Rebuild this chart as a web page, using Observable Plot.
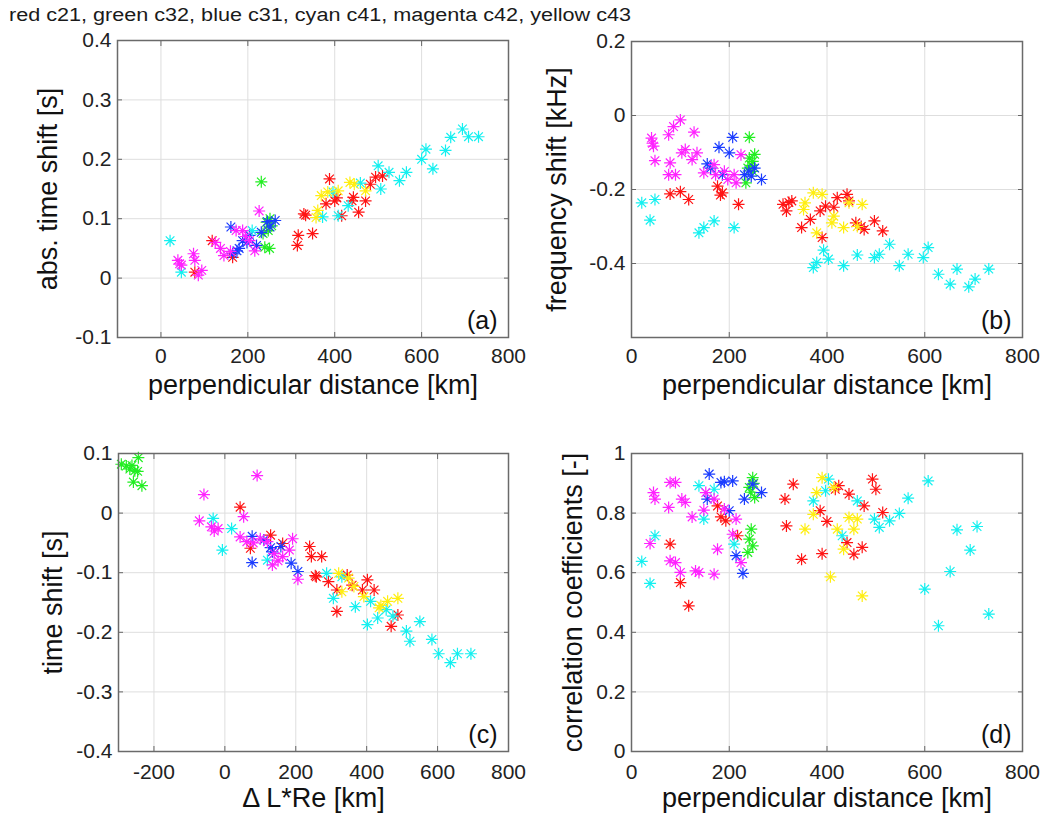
<!DOCTYPE html>
<html><head><meta charset="utf-8">
<script src="https://cdn.jsdelivr.net/npm/d3@7"></script>
<script src="https://cdn.jsdelivr.net/npm/@observablehq/plot@0.6"></script>
<style>
body{margin:0;background:#fff;font-family:"Liberation Sans",Arial,sans-serif;}
#root{position:relative;width:1047px;height:817px;overflow:hidden;background:#fff;}
.panel{position:absolute;}
#title{position:absolute;left:9px;top:5px;font-size:18px;line-height:20px;white-space:nowrap;transform:scaleX(1.2);transform-origin:left top;color:#1a1a1a;}
</style></head><body>
<div id="root"><div id="title">red c21, green c32, blue c31, cyan c41, magenta c42, yellow c43</div></div>
<script>
const seriesNames = ["c21", "c32", "c31", "c41", "c42", "c43"];
const seriesColors = ["#ff1414", "#22ee22", "#1a3cff", "#14f0f0", "#ff22ff", "#ffee10"];

// Panel (a): perpendicular distance [km] vs abs. time shift [s]
const aC21 = [[78,0.01],[118,0.063],[165,0.035],[314,0.055],[316,0.072],[329,0.108],[333,0.106],[349,0.075],[388,0.167],[380,0.125],[400,0.13],[416,0.105],[443,0.136],[440,0.13],[455,0.111],[471,0.13],[482,0.158],[494,0.17],[510,0.172],[405,0.135]];
const aC32 = [[231,0.162],[243,0.094],[251,0.1],[235,0.075],[239,0.052],[250,0.05],[247,0.08],[255,0.088]];
const aC31 = [[161,0.086],[165,0.041],[175,0.046],[188,0.063],[204,0.072],[231,0.077],[251,0.086],[263,0.097],[180,0.05],[220,0.055],[198,0.06],[245,0.095]];
const aC41 = [[21,0.063],[47,0.01],[210,0.08],[372,0.103],[396,0.145],[408,0.105],[431,0.122],[459,0.16],[506,0.15],[525,0.178],[549,0.164],[565,0.178],[600,0.2],[610,0.217],[626,0.184],[655,0.215],[667,0.237],[694,0.251],[708,0.238],[731,0.238],[500,0.189]];
const aC42 = [[39,0.03],[43,0.024],[47,0.022],[75,0.041],[78,0.03],[94,0.013],[86,0.005],[125,0.06],[137,0.05],[145,0.038],[173,0.08],[188,0.08],[204,0.063],[216,0.046],[226,0.113],[195,0.07],[160,0.045]];
const aC43 = [[357,0.102],[361,0.114],[369,0.139],[384,0.145],[408,0.147],[435,0.161],[471,0.147],[445,0.158]];

// Panel (b): perpendicular distance [km] vs frequency shift [kHz]
const bC21 = [[79,-0.212],[100,-0.206],[117,-0.227],[176,-0.191],[186,-0.209],[182,-0.215],[219,-0.24],[310,-0.24],[317,-0.258],[328,-0.231],[322,-0.235],[348,-0.303],[366,-0.281],[386,-0.258],[397,-0.245],[414,-0.248],[421,-0.222],[441,-0.213],[445,-0.231],[390,-0.33],[459,-0.29],[476,-0.308],[497,-0.285],[514,-0.312],[470,-0.3]];
const bC32 = [[241,-0.059],[241,-0.115],[248,-0.124],[238,-0.142],[248,-0.151],[234,-0.182],[245,-0.135],[252,-0.105]];
const bC31 = [[207,-0.059],[179,-0.086],[200,-0.101],[155,-0.131],[162,-0.142],[186,-0.16],[231,-0.16],[252,-0.142],[266,-0.173],[245,-0.164],[240,-0.15]];
const bC41 = [[21,-0.236],[48,-0.227],[38,-0.283],[138,-0.317],[148,-0.303],[169,-0.285],[210,-0.303],[372,-0.411],[379,-0.397],[393,-0.364],[403,-0.388],[434,-0.406],[462,-0.377],[497,-0.384],[507,-0.375],[528,-0.348],[548,-0.406],[566,-0.375],[597,-0.384],[607,-0.357],[628,-0.429],[652,-0.456],[666,-0.415],[690,-0.463],[703,-0.442],[731,-0.415]];
const bC42 = [[41,-0.061],[43,-0.075],[45,-0.083],[48,-0.122],[76,-0.052],[86,-0.03],[100,-0.012],[79,-0.128],[76,-0.16],[90,-0.16],[103,-0.101],[110,-0.092],[128,-0.045],[124,-0.119],[134,-0.101],[148,-0.155],[169,-0.133],[172,-0.16],[190,-0.151],[197,-0.173],[210,-0.16],[224,-0.106],[214,-0.182]];
const bC43 = [[355,-0.236],[352,-0.254],[372,-0.209],[390,-0.213],[414,-0.272],[410,-0.29],[434,-0.303],[445,-0.236],[472,-0.24],[379,-0.317],[462,-0.3]];

// Panel (c): ΔL*Re [km] vs time shift [s]
const cC21 = [[43,0.01],[72,-0.059],[129,-0.037],[163,-0.051],[239,-0.056],[244,-0.073],[273,-0.073],[258,-0.107],[292,-0.115],[316,-0.129],[316,-0.165],[345,-0.104],[359,-0.121],[388,-0.129],[402,-0.112],[421,-0.129],[469,-0.19],[488,-0.171],[255,-0.105]];
const cC32 = [[-292,0.082],[-278,0.079],[-268,0.074],[-254,0.071],[-244,0.093],[-258,0.052],[-234,0.046],[-262,0.08],[-246,0.07]];
const cC31 = [[77,-0.039],[77,-0.083],[129,-0.058],[134,-0.065],[158,-0.056],[187,-0.084],[206,-0.098],[110,-0.045]];
const cC41 = [[-33,-0.009],[19,-0.026],[-7,-0.062],[120,-0.079],[287,-0.101],[306,-0.143],[330,-0.107],[368,-0.157],[402,-0.187],[411,-0.148],[431,-0.176],[455,-0.162],[474,-0.173],[512,-0.198],[522,-0.215],[550,-0.182],[584,-0.212],[603,-0.236],[636,-0.251],[656,-0.236],[694,-0.236]];
const cC42 = [[91,0.063],[-59,0.031],[53,-0.006],[-72,-0.013],[-38,-0.023],[-19,-0.026],[-30,-0.03],[43,-0.04],[62,-0.048],[100,-0.043],[120,-0.048],[139,-0.068],[163,-0.073],[191,-0.043],[182,-0.062],[206,-0.111],[134,-0.087],[150,-0.08],[80,-0.05]];
const cC43 = [[321,-0.101],[349,-0.109],[364,-0.123],[392,-0.14],[435,-0.159],[459,-0.148],[488,-0.143],[330,-0.132],[440,-0.155]];

// Panel (d): perpendicular distance [km] vs correlation coefficients
const dC21 = [[79,0.696],[100,0.567],[117,0.489],[176,0.824],[183,0.787],[193,0.774],[217,0.724],[314,0.847],[317,0.757],[331,0.897],[348,0.645],[386,0.808],[390,0.664],[400,0.772],[417,0.88],[424,0.892],[445,0.864],[441,0.701],[455,0.662],[472,0.685],[476,0.824],[493,0.914],[500,0.88],[514,0.802]];
const dC32 = [[248,0.919],[241,0.886],[252,0.852],[245,0.746],[241,0.713],[248,0.69],[238,0.668],[250,0.9],[244,0.87]];
const dC31 = [[159,0.931],[183,0.903],[207,0.908],[155,0.847],[200,0.808],[214,0.657],[228,0.598],[231,0.847],[248,0.897],[266,0.869],[190,0.905]];
const dC41 = [[21,0.638],[38,0.564],[48,0.724],[138,0.892],[148,0.78],[169,0.88],[210,0.696],[372,0.841],[397,0.875],[403,0.914],[431,0.724],[462,0.841],[497,0.78],[507,0.752],[528,0.774],[548,0.799],[566,0.85],[607,0.908],[600,0.545],[628,0.422],[652,0.604],[666,0.744],[693,0.676],[707,0.755],[731,0.461]];
const dC42 = [[45,0.869],[48,0.847],[38,0.698],[76,0.819],[79,0.903],[90,0.903],[79,0.64],[90,0.634],[100,0.601],[103,0.847],[110,0.836],[124,0.787],[131,0.606],[138,0.601],[148,0.81],[152,0.869],[169,0.595],[176,0.679],[169,0.847],[190,0.814],[214,0.78],[207,0.729],[224,0.634]];
const dC43 = [[355,0.746],[372,0.796],[379,0.869],[390,0.919],[407,0.586],[421,0.746],[445,0.785],[455,0.746],[462,0.78],[434,0.679],[472,0.522],[414,0.886]];

const distTicks = [0, 200, 400, 600, 800];
const dLTicks = [-200, 0, 200, 400, 600, 800];
const aYTicks = [-0.1, 0, 0.1, 0.2, 0.3, 0.4];
const bYTicks = [-0.4, -0.2, 0, 0.2];
const cYTicks = [-0.4, -0.3, -0.2, -0.1, 0, 0.1];
const dYTicks = [0, 0.2, 0.4, 0.6, 0.8, 1];

function rows(...lists) {
  const out = [];
  lists.forEach((list, i) => list.forEach(([x, y]) => out.push({x, y, s: seriesNames[i]})));
  return out;
}

// MATLAB-style '*' marker: eight arms
const asterisk = {
  draw(ctx, size) {
    const r = Math.sqrt(size / Math.PI), d = r * 0.72;
    ctx.moveTo(-r, 0); ctx.lineTo(r, 0);
    ctx.moveTo(0, -r); ctx.lineTo(0, r);
    ctx.moveTo(-d, -d); ctx.lineTo(d, d);
    ctx.moveTo(-d, d); ctx.lineTo(d, -d);
  }
};

const fmt = d => String(+(+d).toFixed(3));
const root = document.getElementById("root");

function panel(cfg) {
  const plot = Plot.plot({
    width: cfg.w, height: cfg.h,
    marginLeft: cfg.m[0], marginRight: cfg.m[1], marginTop: cfg.m[2], marginBottom: cfg.m[3],
    style: {fontFamily: "'Liberation Sans', Arial, sans-serif", fontSize: "21px", color: "#222", background: "transparent", overflow: "visible"},
    x: {domain: cfg.xDomain},
    y: {domain: cfg.yDomain},
    color: {domain: seriesNames, range: seriesColors},
    marks: [
      Plot.gridX(cfg.xTicks, {stroke: "#dedede", strokeOpacity: 1}),
      Plot.gridY(cfg.yTicks, {stroke: "#dedede", strokeOpacity: 1}),
      Plot.axisX(cfg.xTicks, {anchor: "bottom", tickSize: -5, tickPadding: cfg.xPad, tickFormat: fmt, label: null, fontSize: 21, stroke: "#666"}),
      Plot.axisX(cfg.xTicks, {anchor: "top", tickSize: -5, tickFormat: () => "", label: null, stroke: "#666"}),
      Plot.axisY(cfg.yTicks, {anchor: "left", tickSize: -5, tickPadding: 11, tickFormat: fmt, label: null, fontSize: 21, stroke: "#666"}),
      Plot.axisY(cfg.yTicks, {anchor: "right", tickSize: -5, tickFormat: () => "", label: null, stroke: "#666"}),
      Plot.dot(cfg.data, {x: "x", y: "y", stroke: "s", symbol: asterisk, r: 6, fill: "none", strokeWidth: 1.2}),
      Plot.frame({stroke: "#6a6a6a", strokeWidth: 1.5}),
      Plot.text([cfg.tag], {text: d => d, frameAnchor: "bottom-right", dx: -11, dy: -9, fontSize: 25, fill: "#111", lineAnchor: "bottom"}),
      Plot.text([cfg.yLabel], {text: d => d, frameAnchor: "left", textAnchor: "middle", lineAnchor: "middle", rotate: -90, dx: cfg.yLabelDx, fontSize: 27, fill: "#111"}),
      Plot.text([cfg.xLabel], {text: d => d, frameAnchor: "bottom", textAnchor: "middle", lineAnchor: "middle", dy: cfg.xLabelDy, fontSize: 27, fill: "#111"})
    ]
  });
  plot.classList.add("panel");
  plot.style.left = cfg.left + "px";
  plot.style.top = cfg.top + "px";
  root.appendChild(plot);
}

panel({left: 0, top: 0, w: 523, h: 400, m: [117, 15, 40, 63],
  xDomain: [-100, 800], yDomain: [-0.1, 0.4], xTicks: distTicks, yTicks: aYTicks, xPad: 16,
  data: rows(aC21, aC32, aC31, aC41, aC42, aC43), tag: "(a)",
  yLabel: "abs. time shift [s]", yLabelDx: -69, xLabel: "perpendicular distance [km]", xLabelDy: 48});

panel({left: 523, top: 0, w: 524, h: 400, m: [108, 25, 41, 63],
  xDomain: [0, 800], yDomain: [-0.6, 0.2], xTicks: distTicks, yTicks: bYTicks, xPad: 16,
  data: rows(bC21, bC32, bC31, bC41, bC42, bC43), tag: "(b)",
  yLabel: "frequency shift [kHz]", yLabelDx: -74, xLabel: "perpendicular distance [km]", xLabelDy: 48});

panel({left: 0, top: 410, w: 523, h: 407, m: [118, 15, 43, 66],
  xDomain: [-300, 800], yDomain: [-0.4, 0.1], xTicks: dLTicks, yTicks: cYTicks, xPad: 18,
  data: rows(cC21, cC32, cC31, cC41, cC42, cC43), tag: "(c)",
  yLabel: "time shift [s]", yLabelDx: -65, xLabel: "\u0394 L*Re [km]", xLabelDy: 47});

panel({left: 523, top: 410, w: 524, h: 407, m: [108, 25, 43, 66],
  xDomain: [0, 800], yDomain: [0, 1], xTicks: distTicks, yTicks: dYTicks, xPad: 18,
  data: rows(dC21, dC32, dC31, dC41, dC42, dC43), tag: "(d)",
  yLabel: "correlation coefficients [-]", yLabelDx: -58, xLabel: "perpendicular distance [km]", xLabelDy: 47});
</script>
</body></html>
